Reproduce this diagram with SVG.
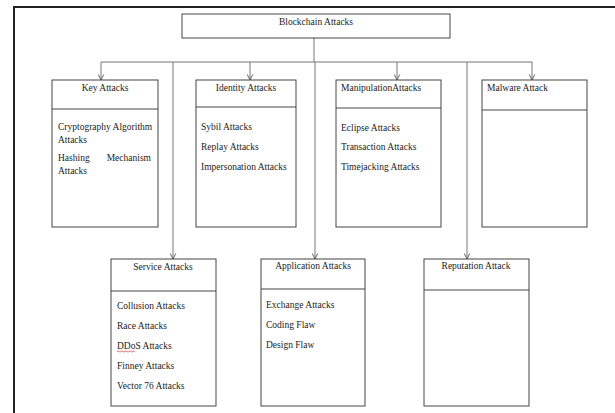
<svg xmlns="http://www.w3.org/2000/svg" width="615" height="413" viewBox="0 0 615 413">
<defs>
<style>
.frame{fill:none;stroke:#222;stroke-width:2}
.box{fill:#fff;stroke:#444;stroke-width:1}
.sep{stroke:#444;stroke-width:1}
.conn{fill:none;stroke:#777;stroke-width:1}
text{font-family:"Liberation Serif","Times New Roman",serif;font-size:9.5px;fill:#222}
.c{text-anchor:middle}
</style>
<marker id="arr" viewBox="0 0 10 10" refX="9" refY="5" markerWidth="7" markerHeight="7" orient="auto" markerUnits="userSpaceOnUse">
<path d="M1,1 L9,5 L1,9" fill="none" stroke="#555" stroke-width="1.3"/>
</marker>
</defs>
<rect width="615" height="413" fill="#fff"/>
<path class="frame" d="M14,440 V7 H630"/>
<g id="connectors">
<path class="conn" d="M314,38 V62"/>
<path class="conn" d="M101,62 H532"/>
<path class="conn" d="M101,62 V80" marker-end="url(#arr)"/>
<path class="conn" d="M250,62 V80" marker-end="url(#arr)"/>
<path class="conn" d="M397,62 V80" marker-end="url(#arr)"/>
<path class="conn" d="M532,62 V80" marker-end="url(#arr)"/>
<path class="conn" d="M173,62 V259" marker-end="url(#arr)"/>
<path class="conn" d="M315,62 V259" marker-end="url(#arr)"/>
<path class="conn" d="M467,62 V259" marker-end="url(#arr)"/>
</g>
<g id="root">
<rect class="box" x="182" y="14" width="268" height="24"/>
<text class="c" x="316" y="25">Blockchain Attacks</text>
</g>
<g id="key">
<rect class="box" x="52" y="80" width="106" height="147"/>
<line class="sep" x1="52" y1="109" x2="158" y2="109"/>
<text class="c" x="105" y="91">Key Attacks</text>
<text x="58" y="130">Cryptography  Algorithm</text>
<text x="58" y="143">Attacks</text>
<text x="58" y="161">Hashing</text>
<text x="151" y="161" text-anchor="end">Mechanism</text>
<text x="58" y="174">Attacks</text>
</g>
<g id="identity">
<rect class="box" x="196" y="80" width="100" height="147"/>
<line class="sep" x1="196" y1="107" x2="296" y2="107"/>
<text class="c" x="246" y="91">Identity Attacks</text>
<text x="201" y="130">Sybil Attacks</text>
<text x="201" y="150">Replay Attacks</text>
<text x="201" y="170">Impersonation Attacks</text>
</g>
<g id="manipulation">
<rect class="box" x="336" y="80" width="105" height="147"/>
<line class="sep" x1="336" y1="108" x2="441" y2="108"/>
<text x="341" y="91">ManipulationAttacks</text>
<text x="341" y="131">Eclipse Attacks</text>
<text x="341" y="150">Transaction Attacks</text>
<text x="341" y="170">Timejacking Attacks</text>
</g>
<g id="malware">
<rect class="box" x="482" y="80" width="105" height="147"/>
<line class="sep" x1="482" y1="110" x2="587" y2="110"/>
<text x="487" y="91">Malware Attack</text>
</g>
<g id="service">
<rect class="box" x="111" y="259" width="105" height="147"/>
<line class="sep" x1="111" y1="291" x2="216" y2="291"/>
<text class="c" x="163" y="270">Service Attacks</text>
<text x="117" y="309">Collusion Attacks</text>
<text x="117" y="329">Race Attacks</text>
<text x="117" y="349">DDoS Attacks</text>
<path d="M117,351.5 q1,-1.2 2,0 t2,0 t2,0 t2,0 t2,0 t2,0 t2,0 t2,0 t2,0" fill="none" stroke="#d33" stroke-width="0.7"/>
<text x="117" y="369">Finney Attacks</text>
<text x="117" y="389">Vector 76 Attacks</text>
</g>
<g id="application">
<rect class="box" x="261" y="259" width="104" height="147"/>
<line class="sep" x1="261" y1="289" x2="365" y2="289"/>
<text class="c" x="313" y="269">Application Attacks</text>
<text x="266" y="308">Exchange Attacks</text>
<text x="266" y="328">Coding Flaw</text>
<text x="266" y="348">Design Flaw</text>
</g>
<g id="reputation">
<rect class="box" x="424" y="259" width="105" height="147"/>
<line class="sep" x1="424" y1="290" x2="529" y2="290"/>
<text class="c" x="476" y="269">Reputation Attack</text>
</g>
</svg>
